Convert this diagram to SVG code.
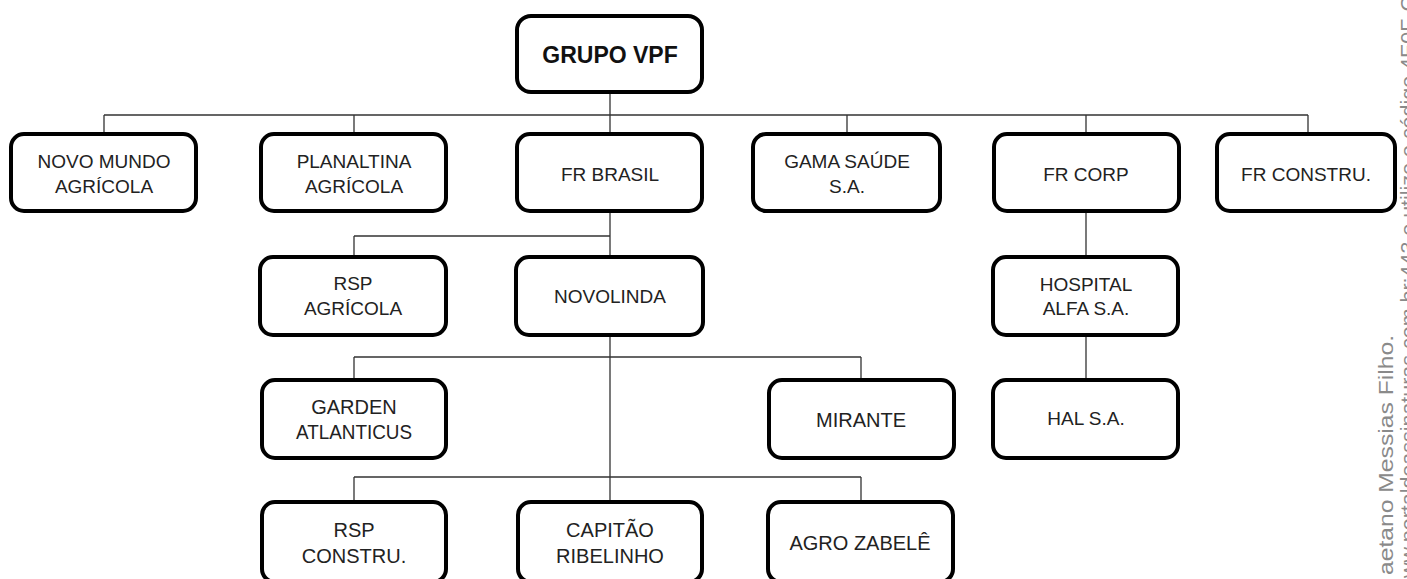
<svg xmlns="http://www.w3.org/2000/svg" width="1407" height="579" viewBox="0 0 1407 579">
<style>
.box{fill:#fff;stroke:#000;stroke-width:4;}
.t{font-family:"Liberation Sans",Arial,sans-serif;font-size:19px;fill:#222;text-anchor:middle;}
.t2{font-family:"Liberation Sans",Arial,sans-serif;font-size:20px;fill:#222;text-anchor:middle;}
.tb{font-family:"Liberation Sans",Arial,sans-serif;font-size:23px;font-weight:bold;fill:#111;text-anchor:middle;}
.c{fill:none;stroke:#333;stroke-width:1.3;}
.wm{font-family:"Liberation Sans",Arial,sans-serif;font-size:21px;fill:#8a8a8a;}
</style>
<rect width="1407" height="579" fill="#fff"/>
<g id="connectors" class="c">
<path d="M610 94V115M104 115H1308M104 115V132M354 115V132M610 115V132M847 115V132M1086 115V132M1308 115V132"/>
<path d="M610 213V255M354 236H610M354 236V255"/>
<path d="M1086 213V255M1086 337V378"/>
<path d="M610 337V500M354 357H861M354 357V378M861 357V378"/>
<path d="M354 477H861M354 477V500M861 477V500"/>
</g>
<g id="grupo-vpf"><rect class="box" x="517" y="16" width="185" height="76" rx="14"/><text class="tb" x="610" y="63">GRUPO VPF</text></g>
<g id="novo-mundo"><rect class="box" x="11" y="134" width="185" height="77" rx="13"/><text class="t" x="104" y="168">NOVO MUNDO</text><text class="t" x="104" y="193">AGRÍCOLA</text></g>
<g id="planaltina"><rect class="box" x="261" y="134" width="185" height="77" rx="13"/><text class="t" x="354" y="168">PLANALTINA</text><text class="t" x="354" y="193">AGRÍCOLA</text></g>
<g id="fr-brasil"><rect class="box" x="517" y="134" width="185" height="77" rx="13"/><text class="t" x="610" y="181">FR BRASIL</text></g>
<g id="gama-saude"><rect class="box" x="753" y="134" width="187" height="77" rx="13"/><text class="t" x="847" y="168">GAMA SAÚDE</text><text class="t" x="847" y="193">S.A.</text></g>
<g id="fr-corp"><rect class="box" x="994" y="134" width="185" height="77" rx="13"/><text class="t" x="1086" y="181">FR CORP</text></g>
<g id="fr-constru"><rect class="box" x="1217" y="134" width="178" height="77" rx="13"/><text class="t" x="1306" y="181">FR CONSTRU.</text></g>
<g id="rsp-agricola"><rect class="box" x="260" y="257" width="186" height="78" rx="13"/><text class="t" x="353" y="290">RSP</text><text class="t" x="353" y="315">AGRÍCOLA</text></g>
<g id="novolinda"><rect class="box" x="516" y="257" width="187" height="78" rx="13"/><text class="t" x="610" y="303">NOVOLINDA</text></g>
<g id="hospital-alfa"><rect class="box" x="993" y="257" width="185" height="78" rx="13"/><text class="t" x="1086" y="291">HOSPITAL</text><text class="t" x="1086" y="315">ALFA S.A.</text></g>
<g id="garden"><rect class="box" x="262" y="380" width="184" height="78" rx="13"/><text class="t2" x="354" y="414">GARDEN</text><text class="t2" x="354" y="439" textLength="116" lengthAdjust="spacingAndGlyphs">ATLANTICUS</text></g>
<g id="mirante"><rect class="box" x="769" y="380" width="185" height="78" rx="13"/><text class="t2" x="861" y="427">MIRANTE</text></g>
<g id="hal"><rect class="box" x="993" y="380" width="185" height="78" rx="13"/><text class="t" x="1086" y="425">HAL S.A.</text></g>
<g id="rsp-constru"><rect class="box" x="262" y="502" width="184" height="80" rx="13"/><text class="t2" x="354" y="537">RSP</text><text class="t2" x="354" y="563">CONSTRU.</text></g>
<g id="capitao"><rect class="box" x="518" y="502" width="184" height="80" rx="13"/><text class="t2" x="610" y="537">CAPITÃO</text><text class="t2" x="610" y="563">RIBELINHO</text></g>
<g id="agro-zabele"><rect class="box" x="768" y="502" width="185" height="80" rx="13"/><text class="t2" x="860" y="550">AGRO ZABELÊ</text></g>
<g id="watermark">
<text class="wm" transform="translate(1393,575) rotate(-90)" textLength="240" lengthAdjust="spacingAndGlyphs">aetano Messias Filho.</text>
<text class="wm" transform="translate(1415,578) rotate(-90)" textLength="582" lengthAdjust="spacingAndGlyphs">ww.portaldeassinaturas.com.br:443 e utilize o código 4E0F-C</text>
</g>
</svg>
